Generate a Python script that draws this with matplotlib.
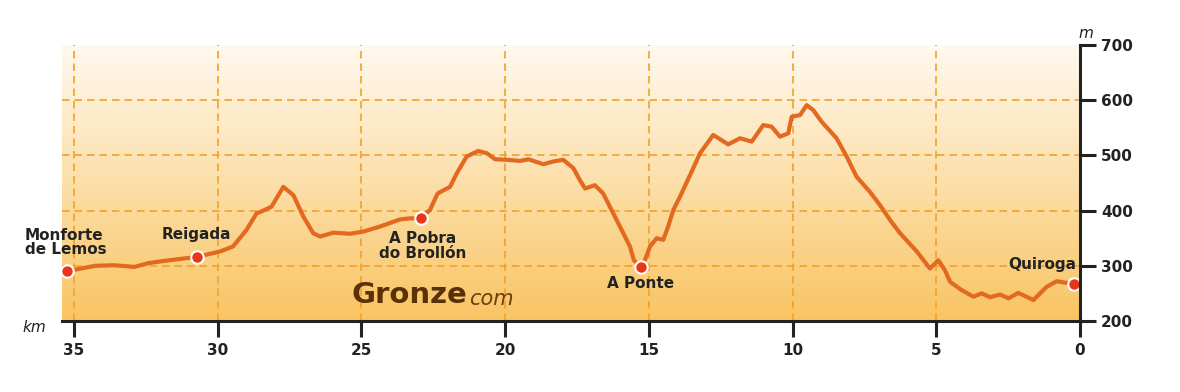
# -*- coding: utf-8 -*-
"""
Perfil de etapa: Monforte de Lemos -> Quiroga (Gronze)
"""

import numpy as np
import matplotlib
matplotlib.use('Agg')
import matplotlib.pyplot as plt
from matplotlib.colors import LinearSegmentedColormap

# ==================== 数据 ====================
# 距终点公里数 / 海拔(米)
dist_km = [35.25, 34.27, 33.6, 32.9, 32.4, 31.85, 30.74, 29.92, 29.47, 29.0,
           28.65, 28.5, 28.13, 27.72, 27.37, 27.02, 26.68, 26.44, 25.98, 25.4,
           24.94, 24.36, 23.66, 23.31, 22.94, 22.62, 22.35, 21.92, 21.69, 21.34,
           20.94, 20.64, 20.35, 19.95, 19.48, 19.19, 18.67, 18.33, 17.98, 17.63,
           17.4, 17.22, 16.88, 16.59, 16.24, 15.89, 15.66, 15.52, 15.29, 15.14,
           14.96, 14.73, 14.5, 14.33, 14.15, 13.92, 13.57, 13.22, 12.76, 12.24,
           11.83, 11.42, 11.02, 10.73, 10.44, 10.15, 10.03, 9.74, 9.51, 9.28,
           8.99, 8.47, 8.12, 7.77, 7.31, 6.96, 6.61, 6.26, 5.68, 5.22,
           4.93, 4.70, 4.52, 4.12, 3.71, 3.42, 3.13, 2.78, 2.49, 2.15,
           1.62, 1.16, 0.81, 0.46, 0.21]
elev_m = [290, 300, 301, 298, 305, 309, 316, 326, 335, 365,
          395, 398, 407, 443, 428, 389, 359, 353, 360, 358,
          362, 371, 384, 386, 386, 401, 431, 443, 467, 498,
          508, 504, 493, 492, 490, 493, 484, 489, 492, 477,
          455, 440, 446, 431, 395, 359, 335, 310, 298, 310,
          335, 350, 347, 371, 401, 425, 464, 504, 537, 520,
          531, 525, 555, 552, 534, 540, 570, 573, 591, 582,
          561, 531, 498, 461, 434, 410, 383, 359, 326, 295,
          310, 292, 271, 256, 244, 250, 243, 248, 241, 251,
          238, 262, 272, 269, 267]

# 途经点
wp_names = ['Monforte\nde Lemos', 'Reigada', 'A Pobra\ndo Brollón', 'A Ponte', 'Quiroga']
wp_km = [35.25, 30.74, 22.94, 15.29, 0.21]
wp_m = [290, 316, 386, 298, 267]

x_ticks = [35, 30, 25, 20, 15, 10, 5, 0]
y_ticks = [200, 300, 400, 500, 600, 700]

# ==================== 样式 ====================
LINE_COLOR = '#E2691F'
GRID_COLOR = '#F2A12A'
DOT_COLOR = '#E8361B'
TEXT_COLOR = '#222222'
X_MAX, X_MIN = 35.42, 0
Y_MIN, Y_MAX = 200, 700

# (ha, va, 偏移像素)
label_style = [
    ('left', 'bottom', (-42, 14)),
    ('center', 'bottom', (0, 15)),
    ('center', 'top', (2, -13)),
    ('center', 'top', (0, -9)),
    ('right', 'bottom', (2, 12)),
]

plt.rcParams['font.family'] = ['DejaVu Sans']


def main():
    fig = plt.figure(figsize=(11.8, 3.92), dpi=100)
    ax = fig.add_axes([62 / 1180, 1 - 321 / 392, (1080 - 62) / 1180, (321 - 45) / 392])

    # 背景渐变
    cmap = LinearSegmentedColormap.from_list('bg', ['#F9C462', '#FCDFA9', '#FFF9EF'])
    grad = np.linspace(0, 1, 256).reshape(-1, 1)
    ax.imshow(grad, cmap=cmap, origin='lower', aspect='auto',
              extent=[X_MIN, X_MAX, Y_MIN, Y_MAX], zorder=0)

    # 网格
    for xv in x_ticks:
        if X_MIN < xv < X_MAX:
            ax.axvline(xv, color=GRID_COLOR, lw=1.2, ls=(0, (4.5, 3)), zorder=1)
    for yv in y_ticks:
        if Y_MIN < yv < Y_MAX:
            ax.axhline(yv, color=GRID_COLOR, lw=1.2, ls=(0, (4.5, 3)), zorder=1)

    # 剖面线
    ax.plot(dist_km, elev_m, color=LINE_COLOR, lw=3.0, solid_joinstyle='round',
            solid_capstyle='round', zorder=3)
    ax.plot(wp_km, wp_m, ls='none', marker='o', ms=9, mfc=DOT_COLOR,
            mec='white', mew=1.5, zorder=4)

    for name, xk, ym, (ha, va, off) in zip(wp_names, wp_km, wp_m, label_style):
        ax.annotate(name, (xk, ym), xytext=off, textcoords='offset pixels',
                    ha=ha, va=va, multialignment=ha if ha != 'right' else 'center',
                    fontsize=11, fontweight='bold', color=TEXT_COLOR,
                    linespacing=0.95, zorder=5, annotation_clip=False)

    # 水印
    g = ax.text(25.33, 233, 'Gronze', fontsize=21, fontweight='bold',
                color='#5A3006', ha='left', va='baseline', zorder=2)
    ax.annotate('com', xy=(1, 0), xycoords=g, xytext=(1, 0),
                textcoords='offset pixels', fontsize=15, fontstyle='italic',
                color='#6E3D0C', ha='left', va='bottom', zorder=2)

    # 坐标轴
    ax.set_xlim(X_MAX, X_MIN)
    ax.set_ylim(Y_MIN, Y_MAX)
    ax.set_xticks(x_ticks)
    ax.set_xticklabels([str(v) for v in x_ticks])
    ax.set_yticks(y_ticks)
    ax.set_yticklabels([str(v) for v in y_ticks])
    ax.yaxis.tick_right()

    for side in ['left', 'top']:
        ax.spines[side].set_visible(False)
    for side in ['bottom', 'right']:
        ax.spines[side].set_linewidth(2.2)
        ax.spines[side].set_color(TEXT_COLOR)
        ax.spines[side].set_zorder(6)
    ax.spines['right'].set_bounds(Y_MIN, Y_MAX)

    ax.tick_params(axis='both', length=11.5, width=2.2, color=TEXT_COLOR,
                   labelsize=11, labelcolor=TEXT_COLOR)
    ax.tick_params(axis='x', pad=4)
    ax.tick_params(axis='y', pad=3.5)
    for lab in ax.get_xticklabels() + ax.get_yticklabels():
        lab.set_fontweight('bold')

    fig.text(22 / 1180, 1 - 328 / 392, 'km', fontsize=11, fontstyle='italic',
             color=TEXT_COLOR, ha='left', va='center')
    fig.text(1086 / 1180, 1 - 33 / 392, 'm', fontsize=11, fontstyle='italic',
             color=TEXT_COLOR, ha='center', va='center')

    fig.savefig('out.png', dpi=100, facecolor='white')
    plt.close(fig)


if __name__ == '__main__':
    main()
